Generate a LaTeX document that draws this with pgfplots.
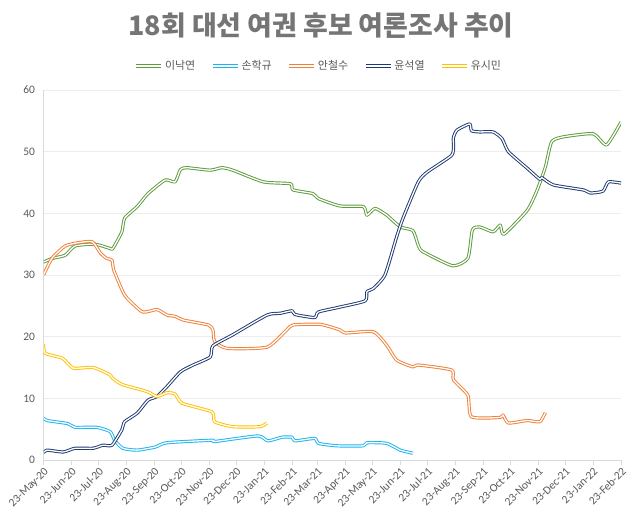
\documentclass[border=0pt]{standalone}
\usepackage{pgfplots}
\pgfplotsset{compat=1.18}
\usepackage{fontspec}
\setmainfont{Carlito}
\newfontfamily\kr{Noto Sans CJK KR}
\definecolor{cgreen}{HTML}{5E9B3E}
\definecolor{clblue}{HTML}{1CB4F0}
\definecolor{corange}{HTML}{F07F38}
\definecolor{cdblue}{HTML}{1F3A70}
\definecolor{cyellow}{HTML}{FFC000}
\definecolor{titlegray}{HTML}{757575}
\definecolor{labelgray}{HTML}{595959}
\definecolor{axisgray}{HTML}{D9D9D9}
\definecolor{gridgray}{HTML}{EDEDED}
\begin{document}
\begin{tikzpicture}
\useasboundingbox (0bp,0bp) rectangle (640bp,517bp);
\node[font=\kr\bfseries\fontsize{27}{31}\selectfont, text=titlegray] at (321bp,491bp) {18회 대선 여권 후보 여론조사 추이};
\begin{axis}[
  at={(43.5bp,57bp)}, anchor=south west,
  scale only axis, width=577.5bp, height=370bp,
  xmin=0, xmax=641, ymin=0, ymax=60,
  ytick={0,10,20,30,40,50,60},
  xtick={0,31,61,92,123,153,184,214,245,276,304,335,365,396,426,457,488,518,549,579,610,641},
  xticklabels={23-May-20,23-Jun-20,23-Jul-20,23-Aug-20,23-Sep-20,23-Oct-20,23-Nov-20,23-Dec-20,23-Jan-21,23-Feb-21,23-Mar-21,23-Apr-21,23-May-21,23-Jun-21,23-Jul-21,23-Aug-21,23-Sep-21,23-Oct-21,23-Nov-21,23-Dec-21,23-Jan-22,23-Feb-22},
  /pgf/number format/assume math mode=true,
  separate axis lines,
  axis x line*=bottom, axis y line*=left,
  x axis line style={draw=axisgray, line width=0.75bp, -},
  y axis line style={draw=axisgray, line width=0.75bp, -},
  xtick style={draw=axisgray, line width=0.75bp},
  ytick style={draw=none},
  tick align=outside, major tick length=5bp,
  ymajorgrids, major grid style={draw=gridgray, line width=0.75bp},
  xticklabel style={rotate=45, anchor=north east, font=\fontsize{11.5}{13}\selectfont, text=labelgray, inner sep=1bp},
  yticklabel style={font=\fontsize{11.5}{13}\selectfont, text=labelgray},
  no markers,
  every axis plot/.append style={line width=0.95bp, double=white, double distance=1.3bp, smooth, tension=0.35, line join=round},
  legend columns=5,
  legend style={at={(rel axis cs:0.477,1.065)}, anchor=center, draw=none, fill=none,
    font=\kr\fontsize{11}{13}\selectfont, text=labelgray,
    /tikz/every even column/.append style={column sep=14bp}},
  legend image code/.code={\draw[#1, line width=0.95bp, double=white, double distance=1.3bp] (0bp,0bp) -- (25bp,0bp);},
]
\addplot[draw=cgreen] coordinates {
(0,32.1)(10,32.7)(24,33.2)(35,34.7)(57,35.0)(74,34.3)(77,34.3)(87,37.0)(90,39.2)(104,41.1)(116,43.2)(135,45.4)(146,45.1)(152,47.1)(159,47.4)(185,47.0)(198,47.4)(210,47.0)(244,45.1)(274,44.8)(277,43.8)(299,43.2)(305,42.4)(329,41.2)(355,41.1)(359,39.7)(368,40.8)(381,39.7)(396,37.8)(410,37.2)(416,34.8)(421,33.8)(454,31.5)(471,32.7)(476,37.3)(484,37.8)(499,37.0)(507,38.1)(511,36.6)(537,40.5)(548,43.8)(557,47.5)(564,51.6)(577,52.4)(610,52.9)(625,51.1)(641,54.8)};
\addlegendentry{이낙연}
\addplot[draw=clblue] coordinates {
(0,6.8)(4,6.4)(27,5.9)(35,5.3)(59,5.3)(74,4.6)(79,3.2)(88,1.9)(104,1.6)(124,2.1)(137,2.8)(187,3.2)(190,3.0)(238,3.9)(249,3.1)(265,3.7)(276,3.7)(279,3.1)(301,3.5)(305,2.7)(326,2.3)(355,2.3)(359,2.8)(381,2.7)(396,1.6)(410,1.1)};
\addlegendentry{손학규}
\addplot[draw=corange] coordinates {
(0,30.0)(7,32.1)(11,33.0)(24,34.7)(37,35.2)(54,35.4)(63,33.6)(70,32.7)(76,32.4)(78,30.8)(88,27.3)(93,26.2)(110,24.0)(126,24.4)(137,23.5)(146,23.3)(155,22.7)(183,21.9)(188,21.1)(190,19.2)(204,18.1)(248,18.3)(270,21.1)(277,21.9)(307,22.0)(329,21.1)(335,20.6)(366,20.8)(381,18.6)(392,16.2)(410,15.1)(416,15.4)(453,14.6)(455,13.0)(471,10.5)(475,7.0)(507,6.9)(510,7.3)(516,6.0)(537,6.4)(551,6.2)(557,7.7)};
\addlegendentry{안철수}
\addplot[draw=cdblue] coordinates {
(0,1.2)(4,1.6)(22,1.3)(35,1.9)(55,1.9)(66,2.4)(76,2.4)(87,4.9)(90,6.2)(104,7.6)(116,9.7)(126,10.3)(137,11.9)(152,14.3)(166,15.4)(185,16.7)(188,18.5)(210,20.3)(248,23.5)(263,23.8)(276,24.2)(279,23.6)(301,23.1)(305,24.0)(329,24.8)(357,25.8)(359,27.3)(366,27.8)(379,30.0)(392,36.2)(399,39.2)(416,45.1)(426,46.7)(453,49.4)(455,51.1)(455,52.3)(459,53.5)(473,54.5)(475,53.4)(484,53.2)(499,53.2)(509,52.1)(516,50.0)(537,47.3)(551,45.5)(553,45.8)(566,44.6)(599,43.8)(607,43.3)(621,43.6)(627,45.1)(641,44.9)};
\addlegendentry{윤석열}
\addplot[draw=cyellow] coordinates {
(0,18.8)(2,17.3)(21,16.5)(33,14.9)(55,15.0)(74,13.8)(77,13.2)(88,12.2)(115,11.1)(126,10.3)(137,10.9)(146,10.7)(154,9.2)(187,7.8)(190,6.2)(210,5.4)(240,5.4)(248,6.0)};
\addlegendentry{유시민}
\end{axis}
\end{tikzpicture}
\end{document}
